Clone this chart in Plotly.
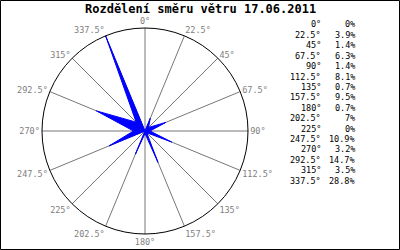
import plotly.graph_objects as go

directions = [0, 22.5, 45, 67.5, 90, 112.5, 135, 157.5, 180, 202.5, 225, 247.5, 270, 292.5, 315, 337.5]
direction_labels = ["0°", "22.5°", "45°", "67.5°", "90°", "112.5°", "135°", "157.5°",
                    "180°", "202.5°", "225°", "247.5°", "270°", "292.5°", "315°", "337.5°"]
percent_values = [0, 3.9, 1.4, 6.3, 1.4, 8.1, 0.7, 9.5, 0.7, 7, 0, 10.9, 3.2, 14.7, 3.5, 28.8]
percent_labels = ["0%", "3.9%", "1.4%", "6.3%", "1.4%", "8.1%", "0.7%", "9.5%",
                  "0.7%", "7%", "0%", "10.9%", "3.2%", "14.7%", "3.5%", "28.8%"]
title_text = "Rozdělení směru větru 17.06.2011"

W, H = 400, 250
cx, cy, R = 145, 131, 103
mono = "DejaVu Sans Mono"

fig = go.Figure()
fig.add_trace(go.Scatterpolar(
    r=percent_values + [percent_values[0]],
    theta=directions + [directions[0]],
    mode="lines",
    fill="toself",
    fillcolor="#0000ff",
    line=dict(color="#0000ff", width=1),
    hoverinfo="skip",
    showlegend=False,
))

annotations = []
annotations.append(dict(
    text="<b>" + title_text + "</b>", x=200 / W, y=1 - 1 / H, xref="paper", yref="paper",
    xanchor="center", yanchor="top", showarrow=False,
    font=dict(family=mono, size=12, color="black"),
    borderpad=0,
))
for i, (dl, pl) in enumerate(zip(direction_labels, percent_labels)):
    yy = 1 - (24.5 + 10.4 * i) / H
    annotations.append(dict(text=dl, x=323 / W, y=yy, xref="paper", yref="paper",
                            xanchor="right", yanchor="middle", showarrow=False,
                            font=dict(family=mono, size=8.5, color="black")))
    annotations.append(dict(text=pl, x=357 / W, y=yy, xref="paper", yref="paper",
                            xanchor="right", yanchor="middle", showarrow=False,
                            font=dict(family=mono, size=8.5, color="black")))

fig.update_layout(
    width=W, height=H,
    margin=dict(l=0, r=0, t=0, b=0),
    paper_bgcolor="white",
    plot_bgcolor="white",
    polar=dict(
        domain=dict(x=[(cx - R) / W, (cx + R) / W], y=[(H - cy - R) / H, (H - cy + R) / H]),
        bgcolor="white",
        radialaxis=dict(visible=False, range=[0, max(percent_values)]),
        angularaxis=dict(
            rotation=90, direction="clockwise",
            tickmode="array", tickvals=directions, ticktext=direction_labels,
            showline=True, linecolor="black", linewidth=1,
            showgrid=True, gridcolor="#777777", gridwidth=1,
            ticks="", layer="above traces",
            tickfont=dict(family=mono, size=8.5, color="#808080"),
        ),
    ),
    annotations=annotations,
    shapes=[dict(type="rect", xref="paper", yref="paper", x0=0.5 / W, y0=0.5 / H,
                 x1=1 - 0.5 / W, y1=1 - 0.5 / H, line=dict(color="black", width=1))],
)

fig.write_html("out.html")
